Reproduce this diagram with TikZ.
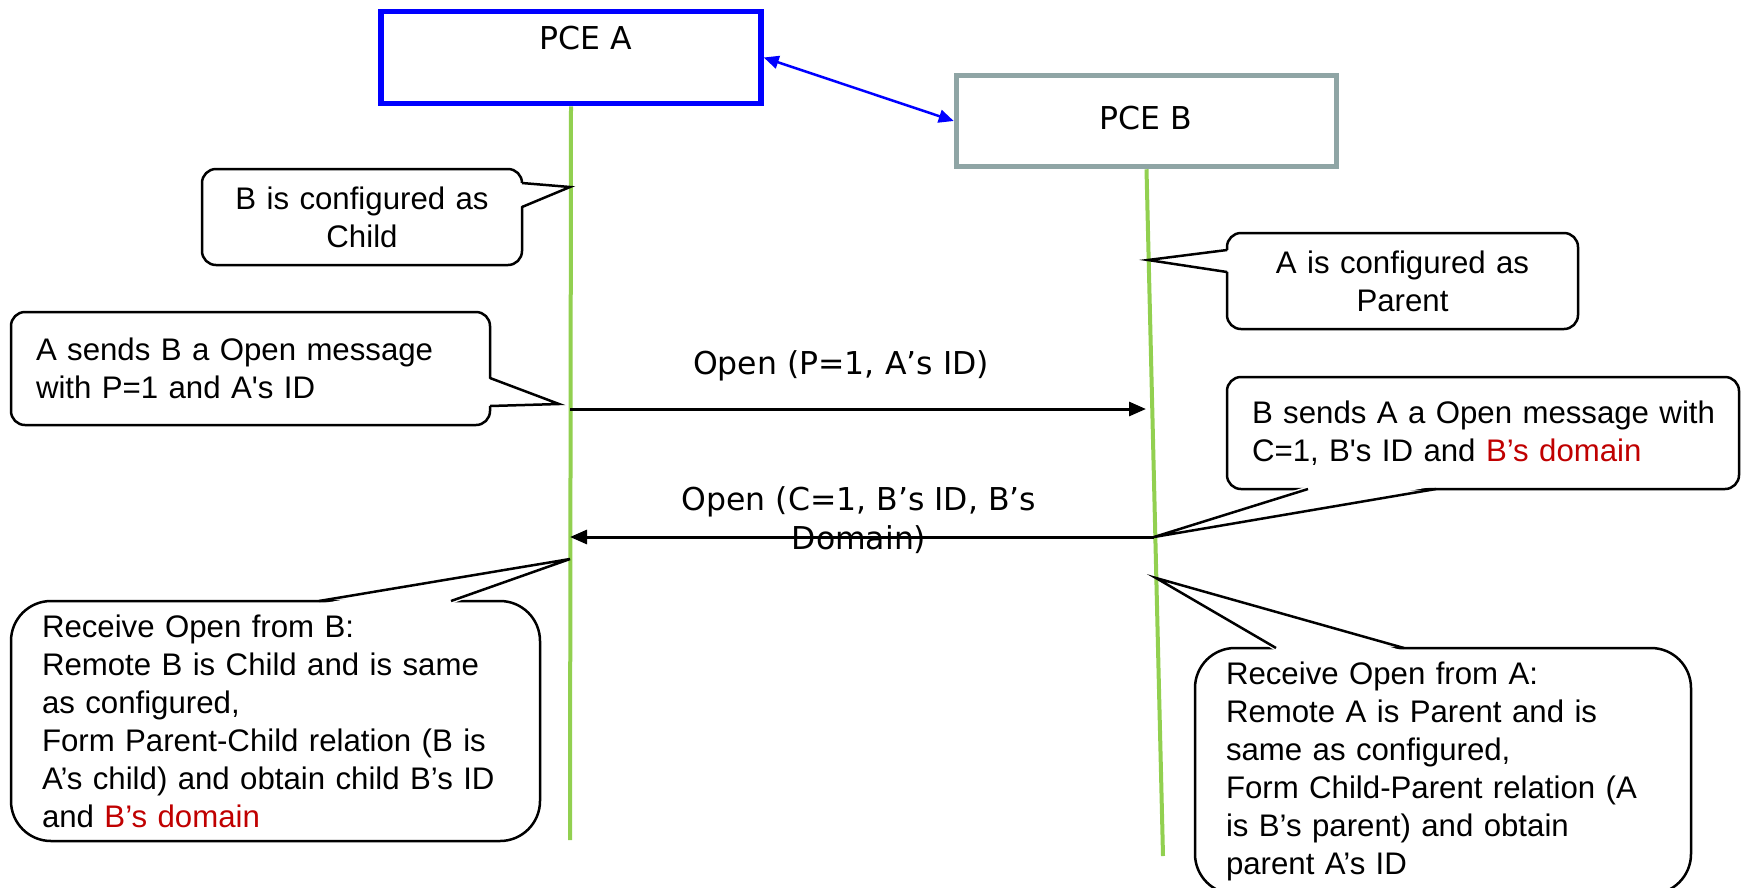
\documentclass[tikz,border=0pt]{standalone}
\usepackage{fontspec}
\setmainfont{Liberation Sans}
\newfontfamily\dejavu{DejaVu Sans}
\usetikzlibrary{arrows.meta}
\definecolor{lgreen}{HTML}{92D050}
\definecolor{pcegray}{HTML}{8FA5A5}
\definecolor{dred}{HTML}{C00000}
\definecolor{pceblue}{HTML}{0000FF}
\newcommand\calloutptr[5]{%
  \fill[white] #4 -- #2 -- #5 -- cycle;
  \draw[ptr] #1 -- #2 -- #3;}
\begin{document}
\begin{tikzpicture}[x=1pt,y=-1pt,
  callbox/.style={draw=black, line width=2.5pt, fill=white, rounded corners=14pt, inner ysep=0pt, font=\fontsize{31.2}{38}\selectfont},
  bigcall/.style={callbox, rounded corners=40pt},
  ptr/.style={line width=2.5pt, line join=miter},
  life/.style={draw=lgreen, line width=4pt},
  msg/.style={line width=3pt, -{Triangle[length=17pt,width=14pt]}},
  lbl/.style={font=\dejavu\fontsize{31.5}{39}\selectfont, align=center, inner sep=0pt},
  pcebox/.style={line width=5.5pt, minimum width=380pt, inner sep=0pt},
]
\useasboundingbox (0,0) rectangle (1743,887);
\fill[white] (0,0) rectangle (1743,887);

% PCE boxes
\node[pcebox, draw=pceblue, minimum height=92pt] (pa) at (571,57.5) {};
\node[lbl] (pal) at (586,38) {PCE A};
\node[pcebox, draw=pcegray, minimum height=91pt] (pb) at (1146.5,121) {};
\node[lbl] (pbl) at (1146,118) {PCE B};
\draw[pceblue, line width=2.5pt, {Triangle[length=15pt,width=13pt]}-{Triangle[length=15pt,width=13pt]}] (pa.east) -- (pb.west);

% lifelines
\coordinate (aend) at (570,840);
\coordinate (bend) at (1163,856);
\draw[life] (pa.south) -- (aend);
\draw[life] (pb.south) -- (bend);

% messages
\coordinate (m1s) at (570,409);
\coordinate (m1e) at (1146,409);
\draw[msg] (m1s) -- (m1e);
\node[lbl] (l1) at (841,366) {Open (P=1, A’s ID)};
\coordinate (m2s) at (1154,537);
\coordinate (m2e) at (570,537);
\draw[msg] (m2s) -- (m2e);
\node[lbl] (l2) at (859,520) {Open (C=1, B’s ID, B’s\\Domain)};

% callouts
\node[callbox, text width=300pt, inner xsep=10pt, minimum height=96pt, align=center] (c1) at (362,217) {B is configured as\\Child};
\coordinate (t1) at (570,187);
\calloutptr{(522,183)}{(t1)}{(522,207)}{(519,183)}{(519,207)}

\node[callbox, text width=429pt, inner xsep=25pt, minimum height=113pt, align=left] (c2) at (250.5,368.5) {\mbox{A sends B a Open message}\\\mbox{with P=1 and A\textquotesingle s ID}};
\coordinate (t2) at (559,404);
\calloutptr{(490,378)}{(t2)}{(490,406)}{(487,378)}{(487,406)}

\node[callbox, text width=331pt, inner xsep=10pt, minimum height=96pt, align=center] (c3) at (1402.5,281) {A is configured as\\Parent};
\coordinate (t3) at (1148,260);
\calloutptr{(1227,250)}{(t3)}{(1227,272)}{(1230,250)}{(1230,272)}

\node[callbox, text width=462pt, inner xsep=25pt, minimum height=112pt, align=left] (c4) at (1483,433) {\mbox{B sends A a Open message with}\\\mbox{C=1, B\textquotesingle s ID and \textcolor{dred}{B’s domain}}};
\calloutptr{(1308,489)}{(m2s)}{(1436,489)}{(1308,486)}{(1436,486)}

\node[bigcall, text width=467pt, inner xsep=31pt, minimum height=240pt, align=left] (c5) at (275.5,721) {\mbox{Receive Open from B:}\\\mbox{Remote B is Child and is same}\\\mbox{as configured,}\\\mbox{Form Parent-Child relation (B is}\\\mbox{A’s child) and obtain child B’s ID}\\\mbox{and \textcolor{dred}{B’s domain}}};
\coordinate (t5) at (570,559);
\calloutptr{(319,601)}{(t5)}{(451,601)}{(319,604)}{(451,604)}

\node[bigcall, text width=434pt, inner xsep=31pt, minimum height=246pt, align=left] (c6) at (1443,771) {\mbox{Receive Open from A:}\\\mbox{Remote A is Parent and is}\\\mbox{same as configured,}\\\mbox{Form Child-Parent relation (A}\\\mbox{is B’s parent) and obtain}\\\mbox{parent A’s ID}};
\coordinate (t6) at (1156,578);
\calloutptr{(1276,648)}{(t6)}{(1404,648)}{(1276,651)}{(1404,651)}
\end{tikzpicture}
\end{document}
